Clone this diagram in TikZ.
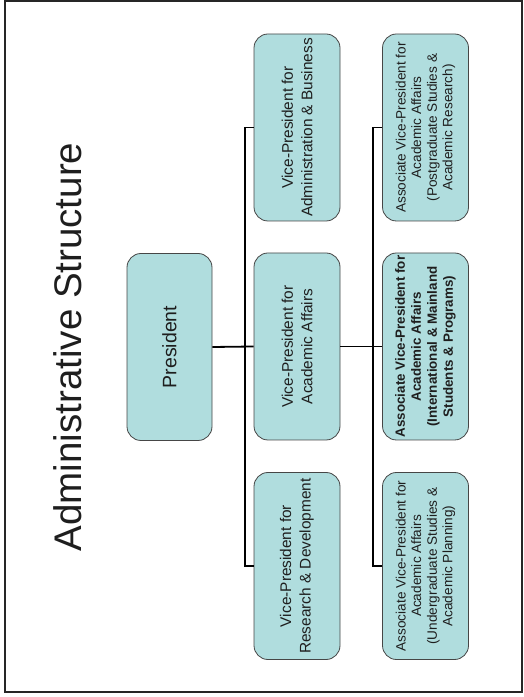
\documentclass[tikz,border=0pt]{standalone}
\usepackage{fontspec}
\setmainfont{Liberation Sans}
\definecolor{boxfill}{RGB}{176,221,222}
\definecolor{boxline}{RGB}{70,70,70}
\definecolor{txt}{RGB}{30,30,30}
\begin{document}
\begin{tikzpicture}[x=1pt,y=1pt,
  orgbox/.style={draw=boxline, line width=0.8pt, fill=boxfill, rounded corners=14pt,
    rotate=90, minimum width=187pt, minimum height=86pt, inner sep=0pt, align=center, text=txt},
  vpfont/.style={font=\fontsize{15.4}{19.5}\selectfont},
  avfont/.style={font=\fontsize{13.6}{15.6}\selectfont},
  conn/.style={line width=1.8pt, draw=black}]
\useasboundingbox (0,0) rectangle (524,697);
\draw[line width=2pt, draw=black!85] (4.5,5) rectangle (522,695.5);
\node[rotate=90, text=txt, font=\fontsize{38.5}{46}\selectfont, inner sep=0pt] (title) at (68,350) {Administrative Structure};
% nodes
\node[orgbox, minimum height=85pt, font=\fontsize{19.5}{23}\selectfont] (pres) at (169.5,350) {President};
\node[orgbox, vpfont] (vpad) at (297,569.5) {Vice-President for\\Administration \& Business};
\node[orgbox, vpfont] (vpac) at (297,350.5) {Vice-President for\\Academic Affairs};
\node[orgbox, vpfont] (vpre) at (297,131) {Vice-President for\\Research \& Development};
\node[orgbox, avfont] (avpg) at (425.5,569.5) {Associate Vice-President for\\Academic Affairs\\(Postgraduate Studies \&\\Academic Research)};
\node[orgbox, avfont, font=\bfseries\fontsize{13.4}{16}\selectfont] (avin) at (425.5,350.5) {Associate Vice-President for\\Academic Affairs\\(International \& Mainland\\Students \& Programs)};
\node[orgbox, avfont] (avug) at (425.5,131) {Associate Vice-President for\\Academic Affairs\\(Undergraduate Studies \&\\Academic Planning)};
% connectors
\draw[conn] (pres.south) -- (vpac.north);
\draw[conn] (vpad.north) -- ++(-9,0) |- (vpre.north);
\draw[conn] (vpac.south) -- (avin.north);
\draw[conn] (avpg.north) -- ++(-9,0) |- (avug.north);
\end{tikzpicture}
\end{document}
